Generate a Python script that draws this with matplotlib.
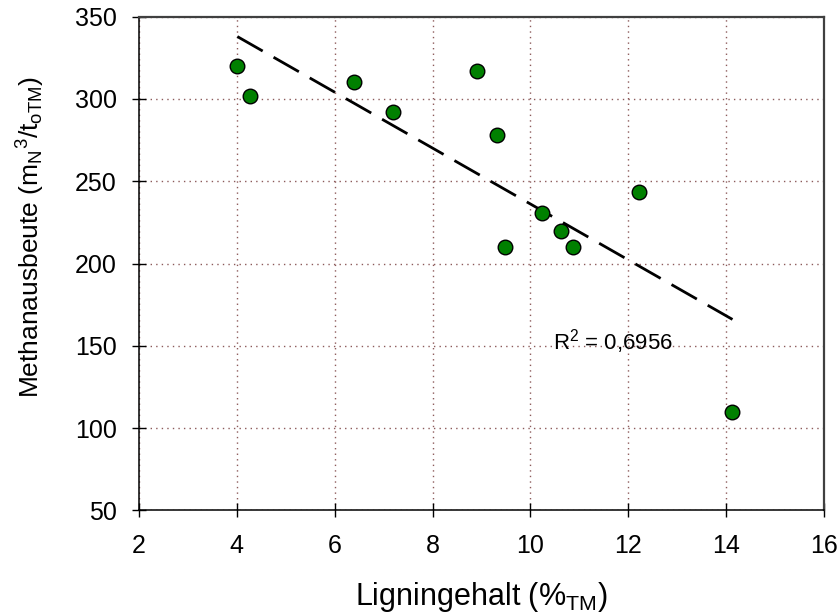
import numpy as np
import matplotlib
matplotlib.use("Agg")
import matplotlib.pyplot as plt

plt.rcParams['font.family'] = ['Liberation Sans', 'DejaVu Sans']
plt.rcParams['mathtext.default'] = 'regular'

# Data
lignin = [4.01, 4.26, 6.40, 7.19, 8.91, 9.32, 9.48, 10.24, 10.62, 10.87, 12.22, 14.13]
methane = [320.2, 302.0, 310.5, 292.3, 317.2, 278.0, 210.3, 230.6, 219.8, 210.0, 243.5, 109.8]

x_ticks = [2, 4, 6, 8, 10, 12, 14, 16]
y_ticks = [50, 100, 150, 200, 250, 300, 350]

x = np.array(lignin)
y = np.array(methane)
slope, intercept = np.polyfit(x, y, 1)
xf = np.array([x.min(), x.max()])
yf = slope * xf + intercept

fig = plt.figure(figsize=(8.39, 6.16), dpi=100)
ax = fig.add_axes([0.1657, 0.1713, 0.8164, 0.8016])

ax.set_xlim(2, 16)
ax.set_ylim(50, 350)
ax.set_xticks(x_ticks)
ax.set_yticks(y_ticks)

ax.grid(True, linestyle=(0, (1, 3)), color='#8c5a5a', linewidth=1.0)
ax.set_axisbelow(True)

ax.plot(xf, yf, color='black', linewidth=2.0, dashes=(10.5, 4.5), zorder=2)
ax.scatter(x, y, s=110, color='#008000', edgecolors='black', linewidths=1.0, zorder=3)

ax.text(10.46, 147.5, r'R$^{2}$ = 0,6956', fontsize=16, ha='left', va='baseline')

for side in ['left', 'bottom']:
    ax.spines[side].set_color('black')
    ax.spines[side].set_linewidth(1.1)
for side in ['top', 'right']:
    ax.spines[side].set_color('#404040')
    ax.spines[side].set_linewidth(1.6)

ax.tick_params(axis='both', direction='inout', length=10, width=1.0, labelsize=18,
               top=False, right=False)
ax.tick_params(axis='x', pad=12)
ax.tick_params(axis='y', pad=11)

ax.set_xlabel(r'Ligningehalt (%$_{TM}$)', fontsize=22, labelpad=16)
ax.set_ylabel(r'Methanausbeute (m$_{N}{}^{3}$/t$_{oTM}$)', fontsize=19)
ax.yaxis.set_label_coords(-0.135, 0.554)

fig.savefig('out.png', dpi=100)
